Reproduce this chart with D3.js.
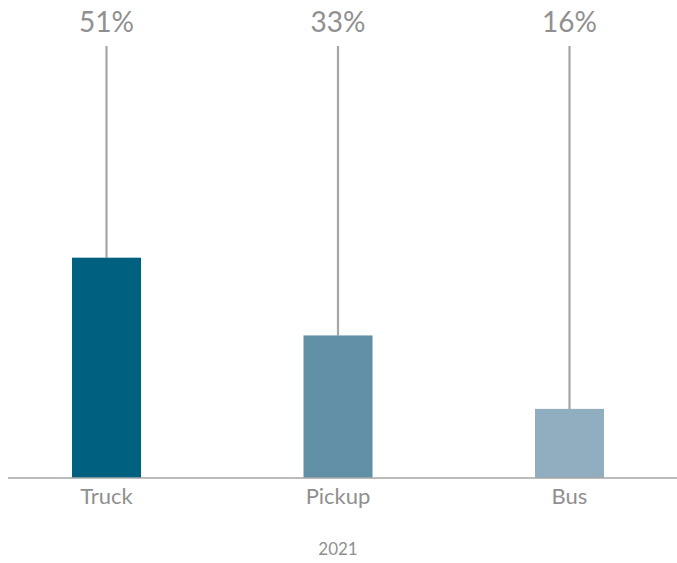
<!DOCTYPE html>
<html>
<head>
<meta charset="utf-8">
<script src="https://cdn.jsdelivr.net/npm/d3@7/dist/d3.min.js"></script>
<style>
  html, body { margin: 0; padding: 0; background: #ffffff; }
  svg { display: block; }
  text { font-family: Lato, "Open Sans", "Liberation Sans", sans-serif; fill: #909090; }
</style>
</head>
<body>
<svg id="chart" width="677" height="563"></svg>
<script>
// Vehicle type shares for 2021
const categories = ["Truck", "Pickup", "Bus"];
const shares = [51, 33, 16];
const barColors = ["#00607f", "#6190a6", "#90aec0"];
const yearLabel = "2021";

const svg = d3.select("#chart");
const baseY = 478;

const x = d3.scalePoint().domain(categories).range([106.5, 569.5]);
const y = d3.scaleLinear().domain([0, 100]).range([baseY, 46]);
const barWidth = 69;

const data = categories.map((c, i) => ({ cat: c, value: shares[i], color: barColors[i] }));

// stems from the 100% mark down to each bar
svg.selectAll("line.stem").data(data).join("line")
  .attr("class", "stem")
  .attr("x1", d => x(d.cat)).attr("x2", d => x(d.cat))
  .attr("y1", y(100)).attr("y2", d => y(d.value))
  .attr("stroke", "#a6a6a6").attr("stroke-width", 2.2);

// bars
svg.selectAll("rect.bar").data(data).join("rect")
  .attr("class", "bar")
  .attr("x", d => x(d.cat) - barWidth / 2)
  .attr("width", barWidth)
  .attr("y", d => y(d.value))
  .attr("height", d => y(0) - y(d.value))
  .attr("fill", d => d.color);

// value labels at the top of each stem
svg.selectAll("text.val").data(data).join("text")
  .attr("class", "val")
  .attr("x", d => x(d.cat))
  .attr("y", 32)
  .attr("text-anchor", "middle")
  .style("font-size", "28px")
  .text(d => d.value + "%");

// category axis
const axis = svg.append("g").attr("transform", `translate(0,${baseY})`);
axis.append("line")
  .attr("x1", 8).attr("x2", 677)
  .attr("stroke", "#a6a6a6").attr("stroke-width", 1.5);
axis.selectAll("text").data(categories).join("text")
  .attr("x", d => x(d))
  .attr("y", 26)
  .attr("text-anchor", "middle")
  .style("font-size", "22px")
  .text(d => d);

// series label
svg.append("text")
  .attr("x", 338)
  .attr("y", 555)
  .attr("text-anchor", "middle")
  .style("font-size", "17px")
  .text(yearLabel);
</script>
</body>
</html>
